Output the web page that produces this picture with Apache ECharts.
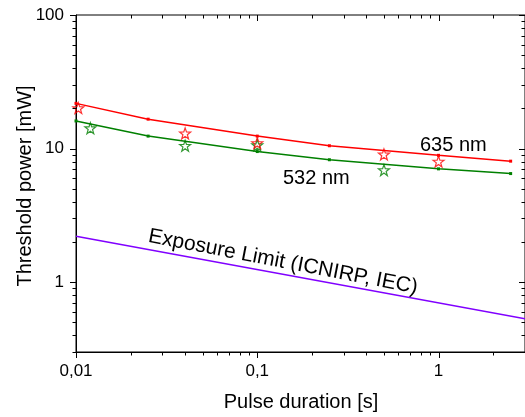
<!DOCTYPE html>
<html>
<head>
<meta charset="utf-8">
<script src="https://cdn.jsdelivr.net/npm/echarts@6/dist/echarts.min.js"></script>
<style>html,body{margin:0;padding:0;background:#fff}#c{width:525px;height:417px}</style>
</head>
<body>
<div id="c"></div>
<script>
// ---- data ----
var fitX = [0.01, 0.025, 0.1, 0.25, 1, 2.5];
var fit635 = [21.8, 16.6, 12.4, 10.5, 8.9, 8.05];
var fit532 = [16.1, 12.4, 9.5, 8.25, 7.05, 6.5];
var meas635X = [0.0103, 0.04, 0.1, 0.5, 1];
var meas635Y = [20.1, 13.0, 11.0, 9.05, 8.0];
var meas532X = [0.012, 0.04, 0.1, 0.5];
var meas532Y = [14.2, 10.5, 10.6, 6.9];
var limitX = [0.01, 3];
var limitY = [2.21, 0.532];
var xMajorTicks = [0.01, 0.1, 1];
var xMinorTicks = [0.02,0.03,0.04,0.05,0.06,0.07,0.08,0.09,0.2,0.3,0.4,0.5,0.6,0.7,0.8,0.9,2,3];
var yMajorTicks = [1, 10, 100];
var yMinorTicks = [0.3,0.4,0.5,0.6,0.7,0.8,0.9,2,3,4,5,6,7,8,9,20,30,40,50,60,70,80,90];
var xRange = [0.01, 3];
var yRange = [0.3, 100];

function zip(a, b) { return a.map(function (v, i) { return [v, b[i]]; }); }

var FONT = 'Liberation Sans, Arial, sans-serif';
var STAR = 'path://M0,-10 L2.35,-3.24 L9.51,-3.09 L3.8,1.24 L5.88,8.09 L0,4 L-5.88,8.09 L-3.8,1.24 L-9.51,-3.09 L-2.35,-3.24 Z';
var chart = echarts.init(document.getElementById('c'));

function tickSeries(vals, isX, major) {
  return {
    type: 'custom', silent: true, clip: false, z: 5,
    data: vals.map(function (v) { return isX ? [v, 1] : [0.1, v]; }),
    renderItem: function (params, api) {
      var cs = params.coordSys;
      var len = major ? 6 : 3.5;
      var style = { stroke: '#000', lineWidth: 1 };
      if (isX) {
        var x = Math.round(api.coord([api.value(0), 1])[0]) + 0.5;
        var b = cs.y + cs.height, t = cs.y;
        return { type: 'group', children: [
          { type: 'line', shape: { x1: x, y1: b, x2: x, y2: b + len }, style: style },
          { type: 'line', shape: { x1: x, y1: t, x2: x, y2: t + len }, style: style }
        ] };
      } else {
        var y = Math.round(api.coord([0.1, api.value(1)])[1]) + 0.5;
        var l = cs.x, r = cs.x + cs.width;
        return { type: 'group', children: [
          { type: 'line', shape: { x1: l, y1: y, x2: l - len, y2: y }, style: style },
          { type: 'line', shape: { x1: r, y1: y, x2: r - len, y2: y }, style: style }
        ] };
      }
    }
  };
}

chart.setOption({
  animation: false,
  backgroundColor: '#fff',
  grid: { left: 76, right: -3, top: 15, bottom: 65, show: true, borderColor: '#000', borderWidth: 1 },
  xAxis: {
    type: 'log', logBase: 10, min: xRange[0], max: xRange[1],
    axisLine: { show: true, lineStyle: { color: '#000', width: 1 } },
    axisTick: { show: false },
    splitLine: { show: false },
    axisLabel: {
      color: '#000', fontFamily: FONT, fontSize: 17, margin: 11, showMaxLabel: false,
      formatter: function (v) { return String(v).replace('.', ','); }
    }
  },
  yAxis: {
    type: 'log', logBase: 10, min: yRange[0], max: yRange[1],
    axisLine: { show: true, lineStyle: { color: '#000', width: 1 } },
    axisTick: { show: false },
    splitLine: { show: false },
    axisLabel: {
      color: '#000', fontFamily: FONT, fontSize: 17, margin: 12, showMinLabel: false,
      formatter: function (v) { return String(v).replace('.', ','); }
    }
  },
  series: [
    tickSeries(xMajorTicks, true, true),
    tickSeries(xMinorTicks, true, false),
    tickSeries(yMajorTicks, false, true),
    tickSeries(yMinorTicks, false, false),
    {
      type: 'line', data: zip(limitX, limitY), symbol: 'none',
      lineStyle: { color: '#8000ff', width: 1.5 }, z: 3
    },
    {
      type: 'line', data: zip(fitX, fit635), symbol: 'rect', symbolSize: 3,
      itemStyle: { color: '#ff0000' }, lineStyle: { color: '#ff0000', width: 1.5 }, z: 3
    },
    {
      type: 'line', data: zip(fitX, fit532), symbol: 'rect', symbolSize: 3,
      itemStyle: { color: '#008000' }, lineStyle: { color: '#008000', width: 1.5 }, z: 3
    },
    {
      type: 'scatter', data: zip(meas532X, meas532Y), symbol: STAR,
      symbolSize: 11, itemStyle: { color: 'rgba(0,0,0,0)', borderColor: '#008000', borderWidth: 1.2 }, z: 4
    },
    {
      type: 'scatter', data: zip(meas635X, meas635Y), symbol: STAR,
      symbolSize: 11, itemStyle: { color: 'rgba(0,0,0,0)', borderColor: '#ff0000', borderWidth: 1.2 }, z: 4
    }
  ],
  graphic: [
    { type: 'text', x: 25, y: 186, rotation: Math.PI / 2,
      style: { text: 'Threshold power [mW]', font: '20px ' + FONT, fill: '#000', align: 'center', verticalAlign: 'middle' } },
    { type: 'text', x: 301, y: 402,
      style: { text: 'Pulse duration [s]', font: '20px ' + FONT, fill: '#000', align: 'center', verticalAlign: 'middle' } },
    { type: 'text', x: 420, y: 145,
      style: { text: '635 nm', font: '20px ' + FONT, fill: '#000', align: 'left', verticalAlign: 'middle' } },
    { type: 'text', x: 283, y: 178,
      style: { text: '532 nm', font: '20px ' + FONT, fill: '#000', align: 'left', verticalAlign: 'middle' } },
    { type: 'text', x: 283, y: 262, rotation: -0.19,
      style: { text: 'Exposure Limit (ICNIRP, IEC)', font: '21px ' + FONT, fill: '#000', align: 'center', verticalAlign: 'middle' } }
  ]
});
</script>
</body>
</html>
